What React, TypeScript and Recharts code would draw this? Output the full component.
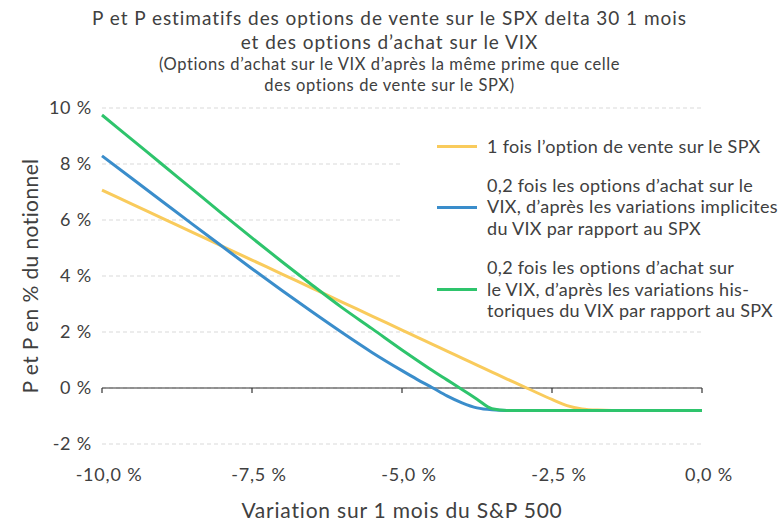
import React from "react";
import {
  LineChart,
  Line,
  XAxis,
  YAxis,
  CartesianGrid,
  ReferenceLine,
  Label,
} from "recharts";

// S&P 500 1-month move (%), shared by all three series
const X_VALUES = [
  -10, -9.5, -9, -8.5, -8, -7.5, -7, -6.5, -6, -5.5, -5, -4.75, -4.5, -4.25, -4,
  -3.75, -3.5, -3.25, -3, -2.75, -2.5, -2.25, -2, -1.75, -1.5, -1, -0.5, 0,
];

const SPX_PUT = [
  7.07, 6.57, 6.07, 5.57, 5.07, 4.57, 4.07, 3.57, 3.07, 2.57, 2.07, 1.82, 1.57,
  1.32, 1.07, 0.82, 0.57, 0.32, 0.08, -0.17, -0.41, -0.63, -0.75, -0.79, -0.8,
  -0.8, -0.8, -0.8,
];

const VIX_IMPLIED = [
  8.29, 7.48, 6.67, 5.86, 5.06, 4.26, 3.48, 2.72, 1.98, 1.27, 0.62, 0.31, 0.02,
  -0.28, -0.53, -0.71, -0.78, -0.8, -0.8, -0.8, -0.8, -0.8, -0.8, -0.8, -0.8,
  -0.8, -0.8, -0.8,
];

const VIX_HISTORICAL = [
  9.75, 8.87, 7.99, 7.11, 6.23, 5.36, 4.51, 3.68, 2.87, 2.12, 1.36, 0.99, 0.63,
  0.29, -0.05, -0.4, -0.74, -0.8, -0.8, -0.8, -0.8, -0.8, -0.8, -0.8, -0.8,
  -0.8, -0.8, -0.8,
];

const X_TICKS = [-10, -7.5, -5, -2.5, 0];
const Y_TICKS = [-2, 0, 2, 4, 6, 8, 10];

const SERIES = [
  {
    key: "spxPut",
    values: SPX_PUT,
    color: "#f9cb5c",
    label: "1 fois l’option de vente sur le SPX",
  },
  {
    key: "vixImplied",
    values: VIX_IMPLIED,
    color: "#3a8dcb",
    label:
      "0,2 fois les options d’achat sur le\nVIX, d’après les variations implicites\ndu VIX par rapport au SPX",
  },
  {
    key: "vixHistorical",
    values: VIX_HISTORICAL,
    color: "#2ec46c",
    label:
      "0,2 fois les options d’achat sur\nle VIX, d’après les variations his-\ntoriques du VIX par rapport au SPX",
  },
];

const TITLE_LINES = [
  "P et P estimatifs des options de vente sur le SPX delta 30 1 mois",
  "et des options d’achat sur le VIX",
];
const SUBTITLE_LINES = [
  "(Options d’achat sur le VIX d’après la même prime que celle",
  "des options de vente sur le SPX)",
];

const FONT = "Lato, 'Open Sans', sans-serif";
const TEXT = "#404040";

const data = X_VALUES.map((x, i) => {
  const row: Record<string, number> = { x };
  SERIES.forEach((s) => {
    row[s.key] = s.values[i];
  });
  return row;
});

const fmtX = (v: number) => `${v.toFixed(1).replace(".", ",")} %`;
const fmtY = (v: number) => `${v} %`;

const tickStyle = {
  fill: TEXT,
  fontSize: 18,
  fontFamily: FONT,
  letterSpacing: 0.8,
};

export default function App() {
  return (
    <div
      style={{
        position: "absolute",
        left: 0,
        top: 0,
        width: 779,
        height: 521,
        background: "#fff",
        fontFamily: FONT,
        color: TEXT,
      }}
    >
      <div
        style={{
          position: "absolute",
          left: 0,
          top: 6,
          width: 779,
          textAlign: "center",
          fontSize: 19,
          letterSpacing: 0.95,
          lineHeight: "24px",
        }}
      >
        {TITLE_LINES.map((t) => (
          <div key={t}>{t}</div>
        ))}
        <div style={{ fontSize: 16.5, letterSpacing: 0.6, lineHeight: "20.5px" }}>
          {SUBTITLE_LINES.map((t) => (
            <div key={t}>{t}</div>
          ))}
        </div>
      </div>

      <LineChart
        width={779}
        height={521}
        data={data}
        margin={{ top: 108, right: 77, bottom: 0, left: 12 }}
      >
        <CartesianGrid
          vertical={false}
          stroke="#d9d9d9"
          strokeDasharray="4 3"
        />
        <XAxis
          dataKey="x"
          type="number"
          domain={[-10, 0]}
          ticks={X_TICKS}
          tickFormatter={fmtX}
          axisLine={false}
          tickLine={false}
          tickMargin={18}
          height={77}
          tick={{ ...tickStyle, dx: 7 }}
        >
          <Label
            content={({ viewBox }: any) => (
              <text
                x={viewBox.x + viewBox.width / 2}
                y={viewBox.y + 65}
                textAnchor="middle"
                dominantBaseline="central"
                fill={TEXT}
                fontSize={21}
                letterSpacing={0.8}
                fontFamily={FONT}
              >
                Variation sur 1 mois du S&amp;P 500
              </text>
            )}
          />
        </XAxis>
        <YAxis
          type="number"
          domain={[-2, 10]}
          ticks={Y_TICKS}
          tickFormatter={fmtY}
          axisLine={false}
          tickLine={false}
          width={90}
          tickMargin={4}
          tick={tickStyle}
        >
          <Label
            content={({ viewBox }: any) => {
              const cx = viewBox.x + 17;
              const cy = viewBox.y + viewBox.height / 2;
              return (
                <text
                  x={cx}
                  y={cy}
                  transform={`rotate(-90 ${cx} ${cy})`}
                  textAnchor="middle"
                  dominantBaseline="central"
                  fill={TEXT}
                  fontSize={21}
                  letterSpacing={0.4}
                  fontFamily={FONT}
                >
                  P et P en % du notionnel
                </text>
              );
            }}
          />
        </YAxis>
        <ReferenceLine y={0} stroke="#333" strokeWidth={1.2} />
        {X_TICKS.map((t) => (
          <ReferenceLine
            key={t}
            segment={[
              { x: t, y: 0 },
              { x: t, y: -0.18 },
            ]}
            stroke="#333"
            strokeWidth={1.2}
          />
        ))}
        {SERIES.map((s) => (
          <Line
            key={s.key}
            type="monotone"
            dataKey={s.key}
            stroke={s.color}
            strokeWidth={3}
            dot={false}
            isAnimationActive={false}
          />
        ))}
      </LineChart>

      <div
        style={{
          position: "absolute",
          left: 401,
          top: 130,
          width: 378,
          height: 195,
          paddingTop: 6,
          boxSizing: "border-box",
          background: "#fff",
          fontSize: 18,
          letterSpacing: 0.3,
          lineHeight: "21.7px",
        }}
      >
        {SERIES.map((s) => (
          <div
            key={s.key}
            style={{
              display: "flex",
              alignItems: "center",
              marginBottom: 17,
              marginLeft: 36,
            }}
          >
            <div
              style={{
                width: 40,
                height: 3,
                background: s.color,
                marginRight: 10,
                flexShrink: 0,
              }}
            />
            <div style={{ whiteSpace: "pre" }}>{s.label}</div>
          </div>
        ))}
      </div>
    </div>
  );
}
